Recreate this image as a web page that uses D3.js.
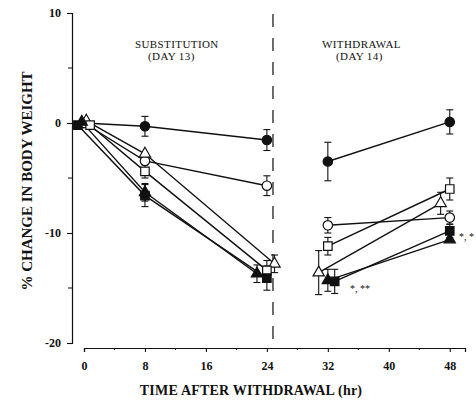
<!DOCTYPE html>
<html>
<head>
<meta charset="utf-8">
<script src="https://cdn.jsdelivr.net/npm/d3@7"></script>
<style>
  body { margin: 0; background: #fff; }
  text { font-family: "Liberation Serif", "DejaVu Serif", serif; fill: #111; }
</style>
</head>
<body>
<div id="chart"></div>
<script>
// Values (hours, % change, error)
// first three points = substitution (day 13), last two = withdrawal (day 14)
const fcHours = [0, 8, 24, 32, 48];
const fcValues = [0, -0.3, -1.55, -3.5, 0.1];
const fcErrors = [0, 0.9, 0.95, 1.75, 1.1];

const ocHours = [0, 8, 24, 32, 48];
const ocValues = [0, -3.45, -5.7, -9.3, -8.6];
const ocErrors = [0, 0, 0.9, 0.7, 0.6];

const osHours = [0.8, 8, 24, 32, 48];
const osValues = [-0.2, -4.4, -13.4, -11.2, -6.0];
const osErrors = [0, 0.6, 0.9, 0.8, 1.0];

const otHours = [0.3, 8, 25, 30.8, 46.8];
const otValues = [0.2, -2.8, -12.8, -13.6, -7.3];
const otErrors = [0, 0, 0.8, 2.0, 1.0];

const fsHours = [-0.8, 8, 24, 32.9, 48];
const fsValues = [-0.2, -6.6, -14.1, -14.4, -9.8];
const fsErrors = [0, 1.0, 1.1, 1.1, 0.6];

const ftHours = [-0.3, 8, 22.7, 32, 48];
const ftValues = [0.1, -6.3, -13.7, -14.3, -10.6];
const ftErrors = [0, 0.8, 0.8, 1.0, 0];

const xTicks = [0, 8, 16, 24, 32, 40, 48];
const xMinorTicks = [4, 12, 20, 28, 36, 44];
const yTicks = [10, 0, -10, -20];
const yMinorTicks = [5, -5, -15];

const substitutionLabel = ["SUBSTITUTION", "(DAY 13)"];
const withdrawalLabel = ["WITHDRAWAL", "(DAY 14)"];
const withdrawalHour = 24.8;

const series = [
  { hours: fcHours, values: fcValues, errors: fcErrors, shape: d3.symbolCircle, filled: true },
  { hours: ocHours, values: ocValues, errors: ocErrors, shape: d3.symbolCircle, filled: false },
  { hours: otHours, values: otValues, errors: otErrors, shape: d3.symbolTriangle, filled: false },
  { hours: osHours, values: osValues, errors: osErrors, shape: d3.symbolSquare, filled: false },
  { hours: ftHours, values: ftValues, errors: ftErrors, shape: d3.symbolTriangle, filled: true },
  { hours: fsHours, values: fsValues, errors: fsErrors, shape: d3.symbolSquare, filled: true }
].map(s => ({
  ...s,
  points: s.hours.map((h, i) => ({ h: h, v: s.values[i], e: s.errors[i] }))
}));

const width = 476, height = 404;

const x = d3.scaleLinear().domain([0, 50]).range([84, 465]);
const y = d3.scaleLinear().domain([-20, 10]).range([343, 13]);

const svg = d3.select("#chart")
  .append("svg")
    .attr("width", width)
    .attr("height", height);

// Y axis
const yAxis = svg.append("g")
    .attr("transform", "translate(72,0)")
    .call(d3.axisLeft(y).tickValues(yTicks).tickSize(5).tickPadding(6).tickFormat(d => String(d).replace("\u2212", "-")));
yAxis.append("g").selectAll("line")
  .data(yMinorTicks)
  .join("line")
    .attr("x1", -4).attr("x2", 0)
    .attr("y1", d => y(d)).attr("y2", d => y(d))
    .attr("stroke", "#111");

// X axis (separate line below the plot)
const xAxis = svg.append("g")
    .attr("transform", "translate(0,348)")
    .call(d3.axisBottom(x).tickValues(xTicks).tickSize(4).tickPadding(9));
xAxis.append("g").selectAll("line")
  .data(xMinorTicks)
  .join("line")
    .attr("x1", d => x(d)).attr("x2", d => x(d))
    .attr("y1", 0).attr("y2", 2)
    .attr("stroke", "#111");

svg.selectAll(".domain").attr("stroke", "#111").attr("stroke-width", 1.2);
svg.selectAll(".tick line").attr("stroke", "#111").attr("stroke-width", 1.1);
svg.selectAll(".tick text")
    .style("font-family", "'Liberation Serif', serif")
    .style("font-size", "12px")
    .style("font-weight", "bold")
    .attr("fill", "#111");

// Axis titles
svg.append("text")
    .attr("transform", "translate(32,181) rotate(-90)")
    .attr("text-anchor", "middle")
    .style("font-size", "15px")
    .style("font-weight", "bold")
    .text("% CHANGE IN BODY WEIGHT");

svg.append("text")
    .attr("x", 251)
    .attr("y", 395)
    .attr("text-anchor", "middle")
    .style("font-size", "14px")
    .style("font-weight", "bold")
    .style("letter-spacing", "0.2px")
    .text("TIME AFTER WITHDRAWAL (hr)");

// Phase labels
svg.append("text").attr("x", 135).attr("y", 48)
    .style("font-size", "11px").style("letter-spacing", "0.4px")
    .text(substitutionLabel[0]);
svg.append("text").attr("x", 148).attr("y", 60)
    .style("font-size", "11px").style("letter-spacing", "0.4px")
    .text(substitutionLabel[1]);
svg.append("text").attr("x", 322).attr("y", 48)
    .style("font-size", "11px").style("letter-spacing", "0.4px")
    .text(withdrawalLabel[0]);
svg.append("text").attr("x", 336).attr("y", 60)
    .style("font-size", "11px").style("letter-spacing", "0.4px")
    .text(withdrawalLabel[1]);

// Dashed divider between phases
svg.append("line")
    .attr("x1", x(withdrawalHour)).attr("x2", x(withdrawalHour))
    .attr("y1", 14).attr("y2", 343)
    .attr("stroke", "#111")
    .attr("stroke-width", 1.2)
    .attr("stroke-dasharray", "13,11");

// Lines: each phase drawn as its own segment
const line = d3.line()
  .x(d => x(d.h))
  .y(d => y(d.v));

series.forEach(s => {
  [s.points.slice(0, 3), s.points.slice(3)].forEach(seg => {
    svg.append("path")
      .datum(seg)
      .attr("fill", "none")
      .attr("stroke", "#111")
      .attr("stroke-width", 1.4)
      .attr("d", line);
  });
});

// Error bars
series.forEach(s => {
  const eb = svg.append("g")
    .selectAll("g")
    .data(s.points.filter(p => p.e > 0))
    .join("g");
  eb.append("line")
    .attr("x1", d => x(d.h)).attr("x2", d => x(d.h))
    .attr("y1", d => y(d.v + d.e)).attr("y2", d => y(d.v - d.e))
    .attr("stroke", "#111").attr("stroke-width", 1.1);
  eb.selectAll("line.cap")
    .data(d => [d.v + d.e, d.v - d.e].map(v => ({ h: d.h, v: v })))
    .join("line")
      .attr("class", "cap")
      .attr("x1", d => x(d.h) - 3.5).attr("x2", d => x(d.h) + 3.5)
      .attr("y1", d => y(d.v)).attr("y2", d => y(d.v))
      .attr("stroke", "#111").attr("stroke-width", 1.1);
});

// Markers
series.forEach(s => {
  const size = s.shape === d3.symbolSquare ? 72 : s.shape === d3.symbolTriangle ? 55 : 70;
  svg.append("g")
    .selectAll("path")
    .data(s.points)
    .join("path")
      .attr("transform", d => `translate(${x(d.h)},${y(d.v)})`)
      .attr("d", d3.symbol(s.shape, size))
      .attr("fill", s.filled ? "#111" : "#fff")
      .attr("stroke", "#111")
      .attr("stroke-width", 1.2);
});

// Significance marks
svg.append("text").attr("x", 350).attr("y", 292)
    .style("font-size", "10px").text("*, **");
svg.append("text").attr("x", 459).attr("y", 240)
    .style("font-size", "10px").text("*, *");
</script>
</body>
</html>
